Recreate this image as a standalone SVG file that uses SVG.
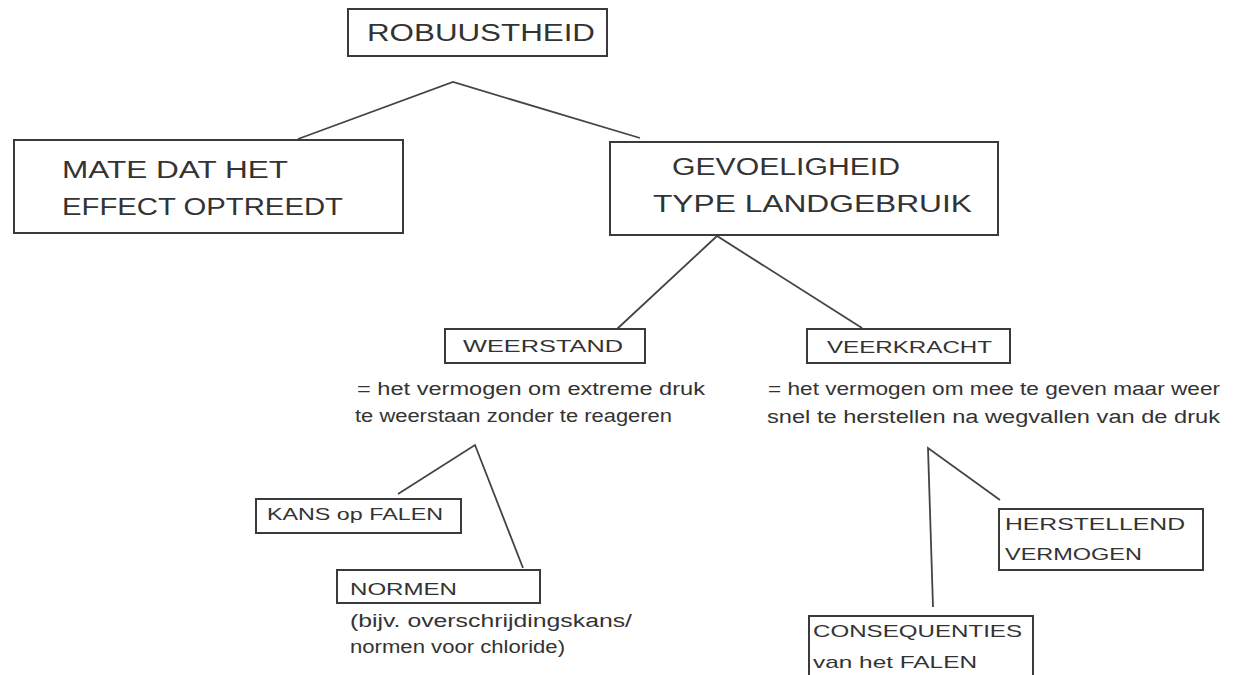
<svg xmlns="http://www.w3.org/2000/svg" width="1241" height="675" viewBox="0 0 1241 675">
<style>
.box{fill:#fff;stroke:#3a3a3a;stroke-width:2}
.c{fill:none;stroke:#444;stroke-width:1.8}
text{font-family:"Liberation Sans","DejaVu Sans",sans-serif;fill:#333}
.big{font-size:23px}
.mid{font-size:17px}
.sm{font-size:16px}
.hand{font-size:18px}
</style>
<rect width="1241" height="675" fill="#fff"/>
<g id="connectors">
<polyline class="c" points="298,139 453,82 640,138"/>
<polyline class="c" points="617,329 717,236 862,328"/>
<polyline class="c" points="398,494 475,445 523,568"/>
<polyline class="c" points="933,607 928,448 1000,500"/>
</g>
<g id="robuustheid">
<rect class="box" x="348" y="9" width="259" height="47"/>
<text class="big" x="367" y="41" textLength="228" lengthAdjust="spacingAndGlyphs">ROBUUSTHEID</text>
</g>
<g id="mate">
<rect class="box" x="14" y="140" width="389" height="93"/>
<text class="big" x="62" y="178" textLength="226" lengthAdjust="spacingAndGlyphs">MATE DAT HET</text>
<text class="big" x="62" y="215" textLength="281" lengthAdjust="spacingAndGlyphs">EFFECT OPTREEDT</text>
</g>
<g id="gevoeligheid">
<rect class="box" x="610" y="142" width="388" height="93"/>
<text class="big" x="672" y="175" textLength="228" lengthAdjust="spacingAndGlyphs">GEVOELIGHEID</text>
<text class="big" x="653" y="212" textLength="319" lengthAdjust="spacingAndGlyphs">TYPE LANDGEBRUIK</text>
</g>
<g id="weerstand">
<rect class="box" x="445" y="329" width="200" height="34"/>
<text class="sm" x="463" y="352" textLength="160" lengthAdjust="spacingAndGlyphs">WEERSTAND</text>
<text class="hand" x="357" y="395" textLength="348" lengthAdjust="spacingAndGlyphs">= het vermogen om extreme druk</text>
<text class="hand" x="355" y="422" textLength="317" lengthAdjust="spacingAndGlyphs">te weerstaan zonder te reageren</text>
</g>
<g id="veerkracht">
<rect class="box" x="807" y="329" width="203" height="34"/>
<text class="sm" x="827" y="353" textLength="165" lengthAdjust="spacingAndGlyphs">VEERKRACHT</text>
<text class="hand" x="768" y="395" textLength="452" lengthAdjust="spacingAndGlyphs">= het vermogen om mee te geven maar weer</text>
<text class="hand" x="767" y="423" textLength="453" lengthAdjust="spacingAndGlyphs">snel te herstellen na wegvallen van de druk</text>
</g>
<g id="kans">
<rect class="box" x="256" y="499" width="205" height="34"/>
<text class="mid" x="267" y="520" textLength="176" lengthAdjust="spacingAndGlyphs">KANS op FALEN</text>
</g>
<g id="normen">
<rect class="box" x="337" y="570" width="203" height="33"/>
<text class="sm" x="350" y="595" textLength="107" lengthAdjust="spacingAndGlyphs">NORMEN</text>
<text class="hand" x="350" y="627" textLength="282" lengthAdjust="spacingAndGlyphs">(bijv. overschrijdingskans/</text>
<text class="hand" x="350" y="653" textLength="215" lengthAdjust="spacingAndGlyphs">normen voor chloride)</text>
</g>
<g id="herstellend">
<rect class="box" x="999" y="509" width="204" height="61"/>
<text class="mid" x="1005" y="530" textLength="180" lengthAdjust="spacingAndGlyphs">HERSTELLEND</text>
<text class="mid" x="1005" y="560" textLength="137" lengthAdjust="spacingAndGlyphs">VERMOGEN</text>
</g>
<g id="consequenties">
<rect class="box" x="809" y="616" width="224" height="70"/>
<text class="mid" x="813" y="637" textLength="209" lengthAdjust="spacingAndGlyphs">CONSEQUENTIES</text>
<text class="mid" x="813" y="668" textLength="164" lengthAdjust="spacingAndGlyphs">van het FALEN</text>
</g>
</svg>
